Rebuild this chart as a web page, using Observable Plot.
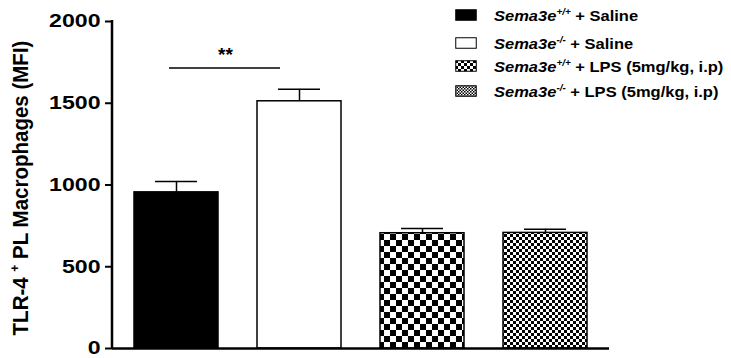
<!DOCTYPE html>
<html><head><meta charset="utf-8">
<script src="https://cdn.jsdelivr.net/npm/d3@7"></script>
<script src="https://cdn.jsdelivr.net/npm/@observablehq/plot@0.6"></script>
<style>
body{margin:0;background:#fff}
#wrap{position:relative;width:731px;height:358px;font-family:"Liberation Sans",Arial,sans-serif;font-weight:bold;color:#000}
#ytitle{position:absolute;left:20px;top:188px;transform:translate(-50%,-50%) rotate(-90deg) scaleY(1.1);white-space:nowrap;font-size:20.5px}
#ytitle sup{font-size:12px;vertical-align:8px;line-height:0}
#legend{position:absolute;left:455px;top:6px;font-size:15px}
.row{position:absolute;left:0;white-space:nowrap;display:flex;align-items:center;height:18px}
.row svg{margin-right:17px}
.row span{display:inline-block;transform:scaleX(1.1);transform-origin:left center}
.row sup{font-size:9px;vertical-align:6px;line-height:0;font-style:italic}
</style>
</head><body><div id="wrap"><div id="ytitle">TLR-4 <sup>+</sup> PL Macrophages (MFI)</div><div id="legend"></div></div>
<script>
// ---- data ----
const groups = ["WT Saline", "KO Saline", "WT LPS", "KO LPS"];
const means = [955, 1512, 705, 707];
const errorTops = [1022, 1585, 734, 729];
const fills = ["#000", "#fff", "url(#checkLarge)", "url(#checkSmall)"];
const legendGenotype = ["+/+", "-/-", "+/+", "-/-"];
const legendTreatment = [" + Saline", " + Saline", " + LPS (5mg/kg, i.p)", " + LPS (5mg/kg, i.p)"];
const legendFills = ["#000", "#fff", "url(#legLarge)", "url(#legSmall)"];
const yTicks = [0, 500, 1000, 1500, 2000];
const sigPair = ["WT Saline", "KO Saline"];
const sigLevel = 1715;
const sigLabel = "**";

const data = groups.map((g, i) => ({group: g, mean: means[i], err: errorTops[i], fill: fills[i]}));
const ns = "http://www.w3.org/2000/svg";

function checker(id, s) {
  const p = document.createElementNS(ns, "pattern");
  p.setAttribute("id", id);
  p.setAttribute("patternUnits", "userSpaceOnUse");
  p.setAttribute("width", 2 * s);
  p.setAttribute("height", 2 * s);
  p.innerHTML = `<rect width="${2*s}" height="${2*s}" fill="#fff"/><rect width="${s}" height="${s}" fill="#000"/><rect x="${s}" y="${s}" width="${s}" height="${s}" fill="#000"/>`;
  return p;
}
function defsMark() {
  const d = document.createElementNS(ns, "defs");
  d.appendChild(checker("checkLarge", 6));
  d.appendChild(checker("checkSmall", 3));
  d.appendChild(checker("legLarge", 3));
  d.appendChild(checker("legSmall", 1.5));
  return d;
}
function yAxisLine(index, scales, values, dims) {
  const l = document.createElementNS(ns, "line");
  const x = dims ? dims.marginLeft : 112;
  const y1 = dims ? dims.marginTop : 21;
  const y2 = dims ? dims.height - dims.marginBottom : 348;
  l.setAttribute("x1", x); l.setAttribute("x2", x);
  l.setAttribute("y1", y1 - 1); l.setAttribute("y2", y2 + 1);
  l.setAttribute("stroke", "#000"); l.setAttribute("stroke-width", 2.5);
  return l;
}

const plot = Plot.plot({
  width: 731, height: 358,
  marginLeft: 112, marginRight: 122, marginTop: 21, marginBottom: 10,
  style: {fontFamily: "'Liberation Sans', Arial, sans-serif", fontWeight: "bold", fontSize: "18.5px", color: "#000", background: "transparent", overflow: "visible"},
  x: {domain: groups, paddingInner: 0.32, paddingOuter: 0.172, axis: null},
  y: {domain: [0, 2000], ticks: yTicks, tickSize: 7, tickPadding: 5, tickFormat: d => String(d), label: null},
  color: {type: "identity"},
  marks: [
    defsMark,
    Plot.barY(data, {x: "group", y: "mean", fill: "fill", stroke: "#000", strokeWidth: 1.5}),
    Plot.ruleX(data, {x: "group", y1: "mean", y2: "err", stroke: "#000", strokeWidth: 1.5}),
    Plot.tickY(data, {x: "group", y: "err", insetLeft: 21, insetRight: 21, stroke: "#000", strokeWidth: 1.5}),
    Plot.ruleY([0], {stroke: "#000", strokeWidth: 2.5}),
    yAxisLine,
    Plot.ruleY([{a: sigPair[0], b: sigPair[1], y: sigLevel}], {x1: "a", x2: "b", y: "y", insetLeft: 35, insetRight: 61, stroke: "#000", strokeWidth: 1.5}),
    Plot.text([{x: sigPair[0], y: sigLevel}], {x: "x", y: "y", text: () => sigLabel, dx: 49, dy: -13, fontSize: 19, fontWeight: "bold"})
  ]
});
d3.select(plot).selectAll("[aria-label='y-axis tick'] path, g[aria-label='y-axis'] path").attr("stroke-width", 2);
d3.select(plot).selectAll("[aria-label='y-axis tick label'] text, g[aria-label='y-axis'] text").each(function() {
  const t = this.getAttribute("transform");
  if (t) this.setAttribute("transform", t + " scale(1.25,1)");
});
document.getElementById("wrap").prepend(plot);
plot.style.position = "absolute"; plot.style.left = "0"; plot.style.top = "0";

// ---- legend ----
const leg = document.getElementById("legend");
const rowTops = [0, 28, 51, 76];
groups.forEach((g, i) => {
  const r = document.createElement("div");
  r.className = "row";
  r.style.top = rowTops[i] + "px";
  r.innerHTML = `<svg width="22" height="12"><rect x="0.75" y="0.75" width="20.5" height="10.5" fill="${legendFills[i]}" stroke="#000" stroke-width="1"/></svg><span><i>Sema3e</i><sup>${legendGenotype[i]}</sup>${legendTreatment[i]}</span>`;
  leg.appendChild(r);
});
</script>
</body></html>
